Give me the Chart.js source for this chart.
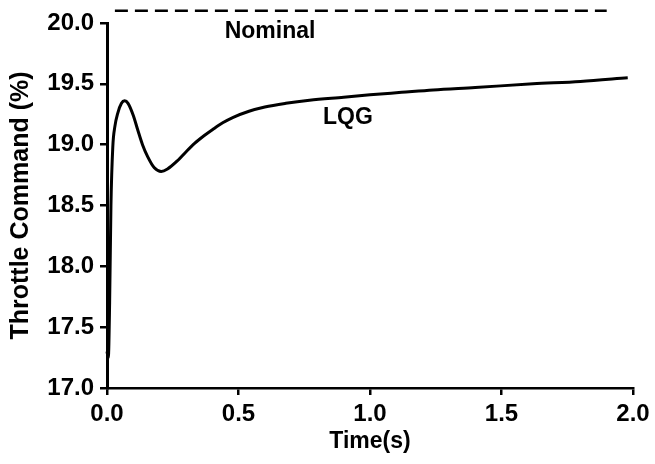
<!DOCTYPE html>
<html>
<head>
<meta charset="utf-8">
<script src="https://cdn.jsdelivr.net/npm/chart.js@4.4.1/dist/chart.umd.min.js"></script>
<style>
    html, body { margin: 0; padding: 0; background: #ffffff; }
    #chart { display: block; }
</style>
</head>
<body>
<canvas id="chart" width="655" height="464"></canvas>
<script>
// LQG throttle response
const lqgTime = [0, 0.005, 0.01, 0.015, 0.022, 0.03, 0.041, 0.055, 0.067, 0.08, 0.1, 0.117, 0.135, 0.155, 0.18, 0.206, 0.23, 0.269, 0.3, 0.333, 0.37, 0.402, 0.44, 0.48, 0.54, 0.6, 0.68, 0.77, 0.9, 1.0, 1.12, 1.24, 1.4, 1.62, 1.8, 1.98];
const lqgValue = [17.3, 17.25, 17.7, 18.5, 18.98, 19.15, 19.26, 19.34, 19.36, 19.34, 19.24, 19.12, 19.0, 18.9, 18.81, 18.78, 18.8, 18.87, 18.94, 19.01, 19.075, 19.125, 19.18, 19.225, 19.275, 19.31, 19.34, 19.365, 19.39, 19.41, 19.43, 19.45, 19.47, 19.5, 19.52, 19.55];

// nominal command (dashed, just above the top of the axis)
const nominalTime = [0.03, 1.9];
const nominalValue = [20.1, 20.1];

const xTicks = [0, 0.5, 1.0, 1.5, 2.0];
const yTicks = [17.0, 17.5, 18.0, 18.5, 19.0, 19.5, 20.0];

const curveLabels = [
    { text: "Nominal", x: 0.62, y: 19.93 },
    { text: "LQG", x: 0.916, y: 19.22 }
];

const FONT_FAMILY = "'Liberation Sans', Arial, Helvetica, sans-serif";

function toPoints(xs, ys) {
    return xs.map((x, i) => ({ x: x, y: ys[i] }));
}

const curveLabelPlugin = {
    id: "curveLabels",
    afterDatasetsDraw(chart) {
        const ctx = chart.ctx;
        const xScale = chart.scales.x;
        const yScale = chart.scales.y;
        ctx.save();
        ctx.fillStyle = "#000000";
        ctx.font = `bold 23px ${FONT_FAMILY}`;
        ctx.textAlign = "center";
        ctx.textBaseline = "middle";
        curveLabels.forEach(label => {
            ctx.fillText(label.text, xScale.getPixelForValue(label.x), yScale.getPixelForValue(label.y));
        });
        ctx.restore();
    }
};

new Chart(document.getElementById("chart"), {
    type: "line",
    data: {
        datasets: [
            {
                label: "LQG",
                data: toPoints(lqgTime, lqgValue),
                borderColor: "#000000",
                borderWidth: 3,
                pointRadius: 0,
                cubicInterpolationMode: "monotone",
                fill: false,
                clip: false
            },
            {
                label: "Nominal",
                data: toPoints(nominalTime, nominalValue),
                borderColor: "#000000",
                borderWidth: 2.5,
                borderDash: [13, 7],
                pointRadius: 0,
                fill: false,
                clip: false
            }
        ]
    },
    options: {
        responsive: false,
        animation: false,
        layout: { padding: { top: 23, right: 22, left: 0, bottom: 0 } },
        plugins: {
            legend: { display: false },
            tooltip: { enabled: false }
        },
        scales: {
            x: {
                type: "linear",
                min: 0,
                max: 2,
                afterBuildTicks(scale) { scale.ticks = xTicks.map(v => ({ value: v })); },
                afterFit(scale) { scale.height = 76; },
                border: { display: true, color: "#000000", width: 2.5 },
                grid: { drawOnChartArea: false, drawTicks: true, tickLength: 7, color: "#000000", lineWidth: 2.5 },
                ticks: {
                    color: "#000000",
                    padding: 5,
                    maxRotation: 0,
                    font: { family: FONT_FAMILY, size: 24, weight: "bold" },
                    callback(value) { return Number(value).toFixed(1); }
                },
                title: {
                    display: true,
                    text: "Time(s)",
                    color: "#000000",
                    padding: { top: 0, bottom: 9 },
                    font: { family: FONT_FAMILY, size: 23, weight: "bold" }
                }
            },
            y: {
                min: 17,
                max: 20,
                afterBuildTicks(scale) { scale.ticks = yTicks.map(v => ({ value: v })); },
                afterFit(scale) { scale.width = 107; },
                border: { display: true, color: "#000000", width: 3 },
                grid: { drawOnChartArea: false, drawTicks: true, tickLength: 7, color: "#000000", lineWidth: 2.5 },
                ticks: {
                    color: "#000000",
                    padding: 6,
                    font: { family: FONT_FAMILY, size: 24, weight: "bold" },
                    callback(value) { return Number(value).toFixed(1); }
                },
                title: {
                    display: true,
                    text: "Throttle Command (%)",
                    color: "#000000",
                    padding: { top: 6, bottom: 0 },
                    font: { family: FONT_FAMILY, size: 25, weight: "bold" }
                }
            }
        }
    },
    plugins: [curveLabelPlugin]
});
</script>
</body>
</html>
